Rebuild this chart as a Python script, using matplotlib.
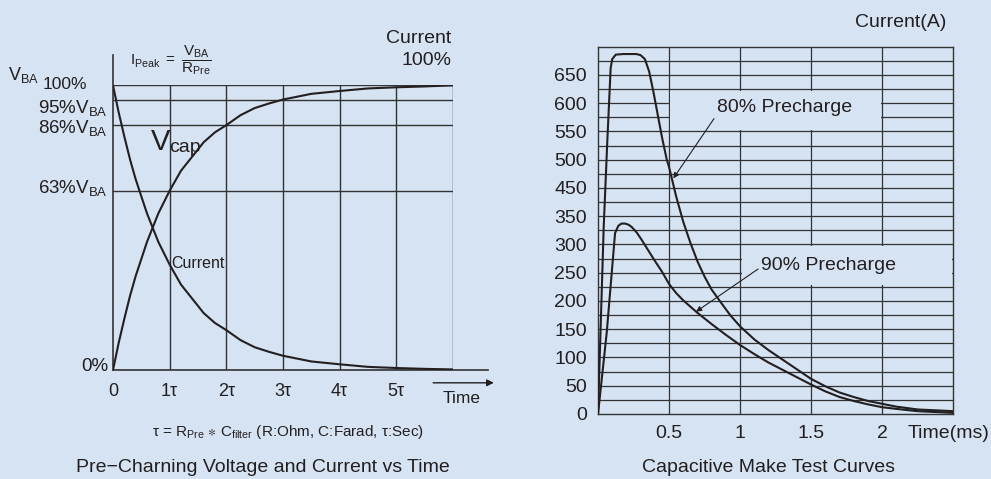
import matplotlib
matplotlib.use("Agg")
import matplotlib.pyplot as plt
from matplotlib.patches import Rectangle

W, H = 991, 479
BG = "#d5e3f3"
INK = "#231f20"
GRID = "#333333"

plt.rcParams["font.family"] = ["Liberation Sans", "DejaVu Sans"]
plt.rcParams["mathtext.fontset"] = "custom"
plt.rcParams["mathtext.rm"] = "Liberation Sans"
plt.rcParams["mathtext.it"] = "Liberation Sans:italic"
plt.rcParams["mathtext.fallback"] = "stixsans"
plt.rcParams["text.color"] = INK

# left chart: time in tau, level in % of V_BA
tau = [0, 0.1, 0.2, 0.3, 0.4, 0.5, 0.6, 0.7, 0.8, 0.9, 1.0, 1.2, 1.4, 1.6, 1.8, 2.0,
       2.25, 2.5, 2.75, 3.0, 3.5, 4.0, 4.5, 5.0, 5.5, 6.0]
v_cap = [0, 9.5, 18, 26, 33, 39, 45, 50, 55, 59, 63, 70, 75, 80, 83.5, 86,
         89.5, 92, 93.6, 95, 97, 98, 98.9, 99.3, 99.6, 100]
i_pre = [100, 90.5, 82, 74, 67, 61, 55, 50, 45, 41, 37, 30, 25, 20, 16.5, 14,
         10.5, 8, 6.4, 5, 3, 2, 1.1, 0.7, 0.4, 0.2]
tau_ticks = [0, 1, 2, 3, 4, 5, 6]
tau_labels = ["0", "1τ", "2τ", "3τ", "4τ", "5τ", ""]
level_lines = [0, 63, 86, 95, 100]

# right chart: time in ms, current in A (axis positions)
t80 = [0, 0.04, 0.065, 0.089, 0.1, 0.125, 0.18, 0.27, 0.3, 0.33, 0.36, 0.39, 0.42, 0.45,
       0.484, 0.5, 0.55, 0.6, 0.65, 0.7, 0.75, 0.8, 0.86, 0.93, 1.0, 1.1, 1.2, 1.3, 1.4,
       1.5, 1.6, 1.7, 1.8, 1.9, 2.0, 2.1, 2.25, 2.5]
i80 = [0, 330, 480, 612, 628, 636, 637, 637, 635, 628, 606, 570, 530, 490,
       450, 437, 385, 340, 303, 270, 243, 220, 199, 175, 155, 132, 113, 96, 79,
       62, 49, 38, 30, 23, 18, 13, 8, 5]
t90 = [0, 0.061, 0.12, 0.143, 0.165, 0.19, 0.215, 0.237, 0.273, 0.3, 0.35, 0.4, 0.45, 0.5,
       0.55, 0.6, 0.65, 0.7, 0.8, 0.9, 1.0, 1.1, 1.2, 1.3, 1.4, 1.5, 1.6, 1.7, 1.8, 1.9,
       2.0, 2.1, 2.25, 2.5]
i90 = [0, 143, 320, 333, 337, 337, 335, 331, 321, 311, 291, 271, 252, 230,
       214, 201, 190, 179, 159, 140, 122, 106, 91, 78, 65, 52, 40, 30, 23, 17,
       12, 9, 5, 2]
amp_ticks = [0, 50, 100, 150, 200, 250, 300, 350, 400, 450, 500, 550, 600]
amp_labels = ["0", "50", "100", "150", "200", "250", "300", "350", "450", "500", "550", "600", "650"]
ms_ticks = [0.5, 1, 1.5, 2]
ms_labels = ["0.5", "1", "1.5", "2"]

fig = plt.figure(figsize=(W / 100, H / 100), dpi=100, facecolor=BG)


def fig_text(x, y, s, **kw):
    fig.text(x / W, 1 - y / H, s, **kw)


# ---------------- left chart ----------------
ax1 = fig.add_axes([113 / W, (H - 370) / H, 340 / W, 284.7 / H])
ax1.set_facecolor("none")
ax1.set_xlim(0, 6)
ax1.set_ylim(0, 100)
for s in ax1.spines.values():
    s.set_visible(False)
for lv in level_lines:
    ax1.plot([0, 6], [lv, lv], color=GRID, lw=1.0, zorder=1)
for t in tau_ticks[1:]:
    ax1.plot([t, t], [0, 100], color=GRID, lw=1.0, zorder=1)
ax1.plot([0, 0], [0, 110.6], color=GRID, lw=1.2, clip_on=False, zorder=1)
ax1.plot([0, 6.62], [0, 0], color=GRID, lw=1.2, clip_on=False, zorder=1)
ax1.annotate("", xy=(6.72, -4.5), xytext=(5.65, -4.5), annotation_clip=False,
             arrowprops=dict(arrowstyle="-|>", color=INK, lw=1.0, mutation_scale=10,
                             shrinkA=0, shrinkB=0))
ax1.plot(tau, v_cap, color=INK, lw=1.5, zorder=3)
ax1.plot(tau, i_pre, color=INK, lw=1.5, zorder=3)
ax1.set_yticks([])
ax1.set_xticks(tau_ticks)
ax1.set_xticklabels(tau_labels)
ax1.tick_params(axis="x", length=0, pad=9, labelsize=13, labelcolor=INK)

fig_text(8, 80, r"V$_{\mathrm{BA}}$", fontsize=13, va="baseline")
fig_text(87, 89, "100%", fontsize=12.5, ha="right", va="baseline")
fig_text(108, 113, r"95%V$_{\mathrm{BA}}$", fontsize=13.5, ha="right", va="baseline")
fig_text(108, 133, r"86%V$_{\mathrm{BA}}$", fontsize=13.5, ha="right", va="baseline")
fig_text(108, 193, r"63%V$_{\mathrm{BA}}$", fontsize=13.5, ha="right", va="baseline")
fig_text(108, 371, "0%", fontsize=13.5, ha="right", va="baseline")
fig_text(130, 60, r"$\mathrm{I_{Peak}\ =\ \dfrac{V_{BA}}{R_{Pre}}}$", fontsize=11, va="center")
fig_text(451.7, 43, "Current", fontsize=14, ha="right", va="baseline")
fig_text(451.7, 65, "100%", fontsize=14, ha="right", va="baseline")
fig_text(151, 150, "V", fontsize=21, va="baseline")
fig_text(169, 152, "cap", fontsize=14, va="baseline")
fig_text(171, 268, "Current", fontsize=11.5, va="baseline")
fig_text(443, 403, "Time", fontsize=12.5, va="baseline")
fig_text(288, 436, r"τ = R$_{\mathrm{Pre}}$ $\ast$ C$_{\mathrm{filter}}$ (R:Ohm, C:Farad, τ:Sec)",
         fontsize=11, ha="center", va="baseline")
fig_text(263, 472, "Pre−Charning Voltage and Current vs Time", fontsize=14,
         ha="center", va="baseline")

# ---------------- right chart ----------------
ax2 = fig.add_axes([598 / W, (H - 414) / H, 355.3 / W, 367.3 / H])
ax2.set_facecolor("none")
ax2.set_xlim(0, 2.5)
ax2.set_ylim(0, 650)
for s in ax2.spines.values():
    s.set_color(GRID)
    s.set_linewidth(1.0)
    s.set_zorder(2.5)
for y in range(25, 650, 25):
    ax2.axhline(y, color=GRID, lw=0.9, zorder=1)
for x in ms_ticks:
    ax2.axvline(x, color=GRID, lw=0.9, zorder=1)
# label boxes cut the grid
ax2.add_patch(Rectangle((0.51, 503), 1.48, 69, facecolor=BG, edgecolor="none", zorder=1.5))
ax2.add_patch(Rectangle((1.01, 228), 1.48, 69, facecolor=BG, edgecolor="none", zorder=1.5))

ax2.plot(t80, i80, color=INK, lw=1.5, zorder=3, solid_joinstyle="round")
ax2.plot(t90, i90, color=INK, lw=1.5, zorder=3, solid_joinstyle="round")

ax2.set_yticks(amp_ticks)
ax2.set_yticklabels(amp_labels)
ax2.set_xticks(ms_ticks)
ax2.set_xticklabels(ms_labels)
ax2.tick_params(length=0, labelsize=14, labelcolor=INK)
ax2.tick_params(axis="y", pad=8)
ax2.tick_params(axis="x", pad=8)

ax2.annotate("80% Precharge", xy=(0.53, 417), xytext=(0.836, 542), fontsize=14,
             va="center", ha="left",
             arrowprops=dict(arrowstyle="-|>", color=INK, lw=0.8, mutation_scale=8,
                             shrinkA=0, shrinkB=0, relpos=(0, 0.1)))
ax2.annotate("90% Precharge", xy=(0.69, 181), xytext=(1.146, 263), fontsize=14,
             va="center", ha="left",
             arrowprops=dict(arrowstyle="-|>", color=INK, lw=0.8, mutation_scale=8,
                             shrinkA=0, shrinkB=0, relpos=(0, 0.4)))

fig_text(855, 27, "Current(A)", fontsize=14, va="baseline")
fig_text(908, 438, "Time(ms)", fontsize=14, va="baseline")
fig_text(768, 472, "Capacitive Make Test Curves", fontsize=14, ha="center", va="baseline")

fig.savefig("out.png", dpi=100, facecolor=BG)
